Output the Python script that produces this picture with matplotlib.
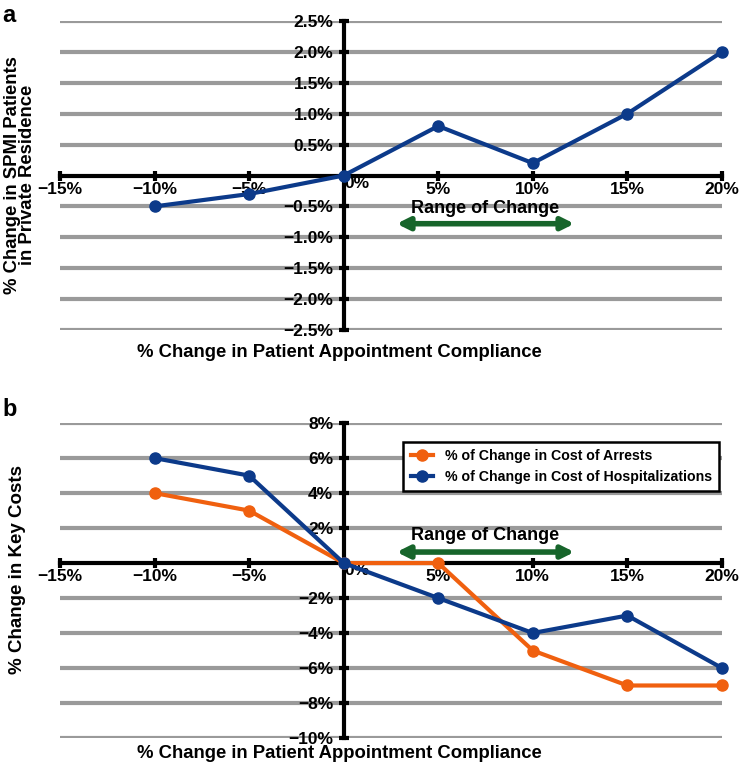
import numpy as np
import matplotlib.pyplot as plt
from matplotlib.ticker import FuncFormatter

# data
compliance = [-10, -5, 0, 5, 10, 15, 20]
spmi_residence = [-0.5, -0.3, 0.0, 0.8, 0.2, 1.0, 2.0]
cost_arrests = [4, 3, 0, 0, -5, -7, -7]
cost_hosp = [6, 5, 0, -2, -4, -3, -6]

x_ticks = [-15, -10, -5, 0, 5, 10, 15, 20]
a_yticks = [-2.5, -2.0, -1.5, -1.0, -0.5, 0.0, 0.5, 1.0, 1.5, 2.0, 2.5]
b_yticks = [-10, -8, -6, -4, -2, 0, 2, 4, 6, 8]
range_of_change = (2.8, 12.2)

blue = '#0C3A8A'
orange = '#F0600F'
green = '#17652B'
grey = '#9A9A9A'

plt.rcParams['font.family'] = ['Liberation Sans', 'DejaVu Sans']
plt.rcParams['font.weight'] = 'bold'

fig = plt.figure(figsize=(7.42, 7.66), dpi=100)
ax_a = fig.add_axes([0.0809, 1 - 330 / 766, 0.892, 309 / 766])
ax_b = fig.add_axes([0.0809, 0.0366, 0.892, 0.411])


def style_axis(ax, yticks, yfmt):
    ax.set_xlim(-15, 20)
    ax.set_ylim(yticks[0], yticks[-1])
    for s in ['top', 'right']:
        ax.spines[s].set_visible(False)
    ax.spines['left'].set_position(('data', 0))
    ax.spines['bottom'].set_position(('data', 0))
    for s in ['left', 'bottom']:
        ax.spines[s].set_linewidth(3)
        ax.spines[s].set_zorder(4)
    ax.set_xticks(x_ticks)
    ax.set_yticks(yticks)
    ax.xaxis.set_major_formatter(FuncFormatter(
        lambda v, p: '' if v == 0 else ('\u2212%d%%' % -v if v < 0 else '%d%%' % v)))
    ax.yaxis.set_major_formatter(FuncFormatter(yfmt))
    ax.tick_params(direction='inout', length=7, width=3, labelsize=12.5)
    ax.tick_params(axis='y', pad=4)
    ax.tick_params(axis='x', pad=1)
    for t in ax.get_xticklabels() + ax.get_yticklabels():
        t.set_fontweight('bold')
    ax.text(0.05, 0, '0%', ha='left', va='top', fontsize=12.5, fontweight='bold',
            transform=ax.transData, zorder=5)
    for v in yticks:
        if v != 0:
            ax.axhline(v, color=grey, lw=3, zorder=0)


def fmt_a(v, p):
    if abs(v) < 1e-9:
        return ''
    return ('\u2212%.1f%%' % -v) if v < 0 else '%.1f%%' % v


def fmt_b(v, p):
    if v == 0:
        return ''
    return ('\u2212%d%%' % -v) if v < 0 else '%d%%' % v


def range_arrow(ax, y_arrow, y_text):
    ax.annotate('', xy=(range_of_change[1], y_arrow), xytext=(range_of_change[0], y_arrow),
                arrowprops=dict(arrowstyle='<|-|>', color=green, lw=4, mutation_scale=18,
                                shrinkA=0, shrinkB=0))
    ax.text(7.5, y_text, 'Range of Change', ha='center', va='center', fontsize=13,
            fontweight='bold', zorder=5)


# panel a
style_axis(ax_a, a_yticks, fmt_a)
ax_a.plot(compliance, spmi_residence, color=blue, lw=3, marker='o', ms=8,
          clip_on=False, zorder=6)
range_arrow(ax_a, -0.78, -0.53)

# panel b
style_axis(ax_b, b_yticks, fmt_b)
ax_b.plot(compliance, cost_arrests, color=orange, lw=3, marker='o', ms=8,
          clip_on=False, zorder=6, label='% of Change in Cost of Arrests')
ax_b.plot(compliance, cost_hosp, color=blue, lw=3, marker='o', ms=8,
          clip_on=False, zorder=7, label='% of Change in Cost of Hospitalizations')
range_arrow(ax_b, 0.63, 1.6)
leg = ax_b.legend(loc='upper right', bbox_to_anchor=(1.006, 0.962),
                  frameon=True, fancybox=False, handlelength=1.6, borderpad=0.5,
                  labelspacing=0.5, prop={'weight': 'bold', 'size': 10.2})
leg.get_frame().set_edgecolor('black')
leg.get_frame().set_linewidth(1.8)
leg.get_frame().set_alpha(1)

# axis titles
fig.text(0.458, 1 - 352 / 766, '% Change in Patient Appointment Compliance',
         ha='center', va='center', fontsize=13.3, fontweight='bold')
fig.text(0.458, 1 - 754 / 766, '% Change in Patient Appointment Compliance',
         ha='center', va='center', fontsize=13.3, fontweight='bold')
fig.text(0.027, 1 - 175 / 766, '% Change in SPMI Patients\nin Private Residence',
         ha='center', va='center', rotation=90, fontsize=13.3, fontweight='bold',
         linespacing=0.9)
fig.text(0.024, 1 - 570 / 766, '% Change in Key Costs', ha='center', va='center',
         rotation=90, fontsize=13.5, fontweight='bold')

fig.text(0.003, 0.995, 'a', ha='left', va='top', fontsize=17, fontweight='bold')
fig.text(0.003, 1 - 398 / 766, 'b', ha='left', va='top', fontsize=17, fontweight='bold')

fig.savefig('out.png', dpi=100)
